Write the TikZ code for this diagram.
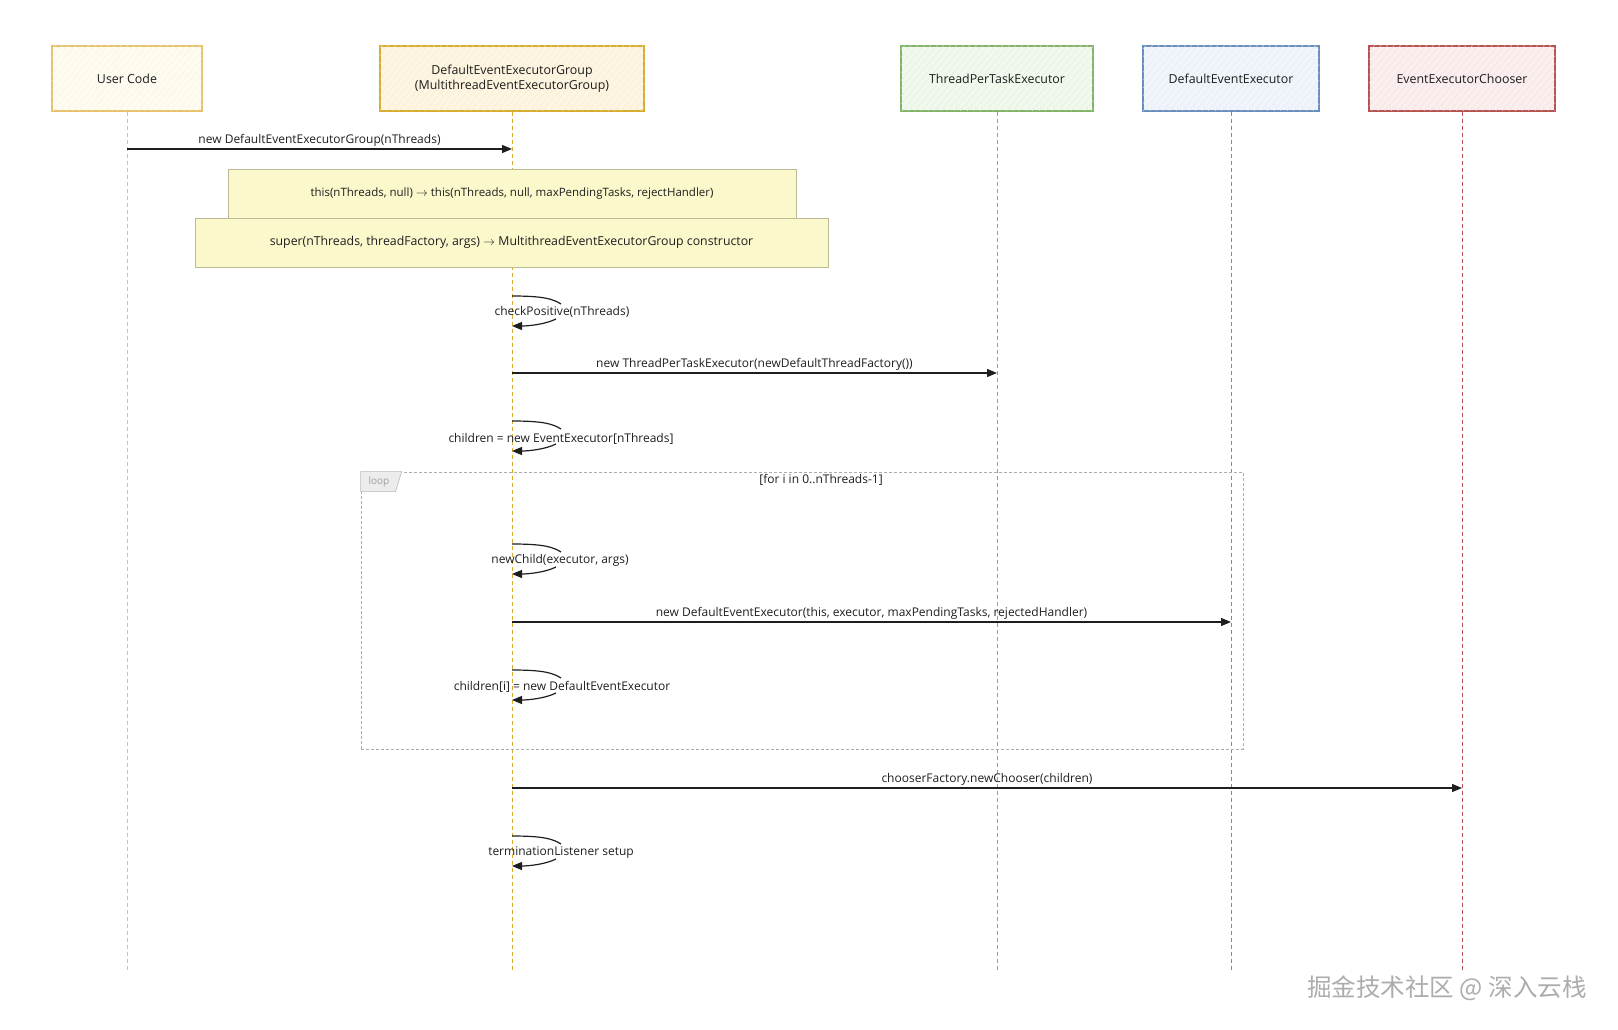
\documentclass[tikz,border=0pt]{standalone}
\usepackage{fontspec}
\setmainfont{Open Sans}
\newfontfamily\cjkfont{Noto Sans CJK SC}
\usetikzlibrary{arrows.meta,patterns.meta}

\definecolor{ink}{HTML}{1E1E1E}
\definecolor{ucdraw}{HTML}{E6C36A}
\definecolor{ucfill}{HTML}{FEFBF1}
\definecolor{grpdraw}{HTML}{D8AC2E}
\definecolor{grpfill}{HTML}{FDF5E1}
\definecolor{tptdraw}{HTML}{82B366}
\definecolor{tptfill}{HTML}{F1F8EE}
\definecolor{deedraw}{HTML}{6C8EBF}
\definecolor{deefill}{HTML}{F0F5FB}
\definecolor{chdraw}{HTML}{B85450}
\definecolor{chfill}{HTML}{FBEEEE}
\definecolor{notedraw}{HTML}{BDBA98}
\definecolor{notefill}{HTML}{FBF8CC}

\begin{document}
\begin{tikzpicture}[x=1pt, y=-1pt, font=\fontsize{12}{14}\selectfont, text=ink]
        \tikzstyle{actor} = [rectangle, text centered, align=center, line width=1.2pt,
                             minimum height=65pt, font=\fontsize{12.4}{15}\selectfont]
        \tikzstyle{life}  = [dash pattern=on 4pt off 3pt, line width=.8pt]
        \tikzstyle{note}  = [rectangle, text centered, draw=notedraw, fill=notefill,
                             line width=.9pt, minimum height=49pt]
        \tikzstyle{msg}   = [draw=ink, line width=1.2pt, -{Triangle[length=10pt,width=8pt]}]
        \tikzstyle{self}  = [draw=ink, line width=1.2pt]
        \tikzstyle{lbl}   = [inner sep=1pt]

        \useasboundingbox (0,0) rectangle (1618,1030);

        % participants
        \node(uc)   [actor, draw=ucdraw, fill=ucfill, minimum width=150pt,
                     postaction={pattern={Lines[angle=50,distance=5pt,line width=.3pt]}, pattern color=ucdraw!25}]
                     at (127,78.5)  {User Code};
        \node(grp)  [actor, draw=grpdraw, fill=grpfill, minimum width=264pt,
                     postaction={pattern={Lines[angle=50,distance=5pt,line width=.3pt]}, pattern color=grpdraw!25}]
                     at (512,78.5)  {DefaultEventExecutorGroup\\(MultithreadEventExecutorGroup)};
        \node(tpt)  [actor, draw=tptdraw, fill=tptfill, minimum width=192pt,
                     postaction={pattern={Lines[angle=50,distance=5pt,line width=.3pt]}, pattern color=tptdraw!25}]
                     at (997,78.5)  {ThreadPerTaskExecutor};
        \node(dee)  [actor, draw=deedraw, fill=deefill, minimum width=176pt,
                     postaction={pattern={Lines[angle=50,distance=5pt,line width=.3pt]}, pattern color=deedraw!20}]
                     at (1231,78.5) {DefaultEventExecutor};
        \node(ch)   [actor, draw=chdraw, fill=chfill, minimum width=186pt,
                     postaction={pattern={Lines[angle=50,distance=5pt,line width=.3pt]}, pattern color=chdraw!20}]
                     at (1462,78.5) {EventExecutorChooser};

        % lifelines
        \coordinate (uc-end)  at (127,970);
        \coordinate (grp-end) at (512,970);
        \coordinate (tpt-end) at (997,970);
        \coordinate (dee-end) at (1231,970);
        \coordinate (ch-end)  at (1462,970);
        \draw[life, draw=ucdraw]  (uc)  -- (uc-end);
        \draw[life, draw=grpdraw] (grp) -- (grp-end);
        \draw[life, draw=tptdraw] (tpt) -- (tpt-end);
        \draw[life, draw=deedraw] (dee) -- (dee-end);
        \draw[life, draw=chdraw]  (ch)  -- (ch-end);

        % constructor chain
        \node(this)  [note, minimum width=568pt, font=\fontsize{11.5}{13}\selectfont] at (512,193.5)
              {this(nThreads, null) $\rightarrow$ this(nThreads, null, maxPendingTasks, rejectHandler)};
        \node(super) [note, minimum width=633pt, font=\fontsize{12.3}{14}\selectfont] at (511.5,242.5)
              {super(nThreads, threadFactory, args) $\rightarrow$ MultithreadEventExecutorGroup constructor};

        % loop frame
        \node(loop) [rectangle, draw=gray!65, dash pattern=on 3pt off 2pt, line width=.8pt,
                     minimum width=882pt, minimum height=277pt] at (802,610.5) {};
        \draw[draw=gray!55, fill=gray!15, line width=.6pt]
              (loop.north west) -- ++(41,0) -- ++(-6,20) -- ++(-35,0) -- cycle;
        \node(looptag) [text=gray!75, font=\fontsize{10}{12}\selectfont] at (379,482) {loop};
        \node(loopcond) at (821,480) {[for i in 0..nThreads-1]};

        % calls between lifelines
        \draw[msg] (uc |- 0,149) -- node[lbl, above=1pt] {new DefaultEventExecutorGroup(nThreads)} (grp |- 0,149);
        \draw[msg] (grp |- 0,373) -- node[lbl, above=1pt] {new ThreadPerTaskExecutor(newDefaultThreadFactory())} (tpt |- 0,373);
        \draw[msg] (grp |- 0,622) -- node[lbl, above=1pt] {new DefaultEventExecutor(this, executor, maxPendingTasks, rejectedHandler)} (dee |- 0,622);
        \draw[msg] (grp |- 0,788) -- node[lbl, above=1pt] {chooserFactory.newChooser(children)} (ch |- 0,788);

        % self calls
        \node(chk)  [lbl] at (562,312) {checkPositive(nThreads)};
        \draw[self] (grp |- 0,296) .. controls +(32,0) and +(-8,-5) .. +(49,8);
        \draw[self, -{Triangle[length=10pt,width=8pt]}] (grp |- 0,326) ++(44,-7) .. controls +(-10,5) and +(18,0) .. (grp |- 0,326);

        \node(arr)  [lbl] at (561,439) {children = new EventExecutor[nThreads]};
        \draw[self] (grp |- 0,421) .. controls +(32,0) and +(-8,-5) .. +(49,8);
        \draw[self, -{Triangle[length=10pt,width=8pt]}] (grp |- 0,451) ++(44,-7) .. controls +(-10,5) and +(18,0) .. (grp |- 0,451);

        \node(child) [lbl] at (560,560) {newChild(executor, args)};
        \draw[self] (grp |- 0,544) .. controls +(32,0) and +(-8,-5) .. +(49,8);
        \draw[self, -{Triangle[length=10pt,width=8pt]}] (grp |- 0,574) ++(44,-7) .. controls +(-10,5) and +(18,0) .. (grp |- 0,574);

        \node(store) [lbl] at (562,687) {children[i] = new DefaultEventExecutor};
        \draw[self] (grp |- 0,670) .. controls +(32,0) and +(-8,-5) .. +(49,8);
        \draw[self, -{Triangle[length=10pt,width=8pt]}] (grp |- 0,700) ++(44,-7) .. controls +(-10,5) and +(18,0) .. (grp |- 0,700);

        \node(term) [lbl] at (561,853) {terminationListener setup};
        \draw[self] (grp |- 0,836) .. controls +(32,0) and +(-8,-5) .. +(49,8);
        \draw[self, -{Triangle[length=10pt,width=8pt]}] (grp |- 0,866) ++(44,-7) .. controls +(-10,5) and +(18,0) .. (grp |- 0,866);

        % watermark
        \node(wm) [text=gray!65, font=\cjkfont\fontsize{24.5}{28}\selectfont] at (1447,988)
              {掘金技术社区 @ 深入云栈};
      \end{tikzpicture}
\end{document}
